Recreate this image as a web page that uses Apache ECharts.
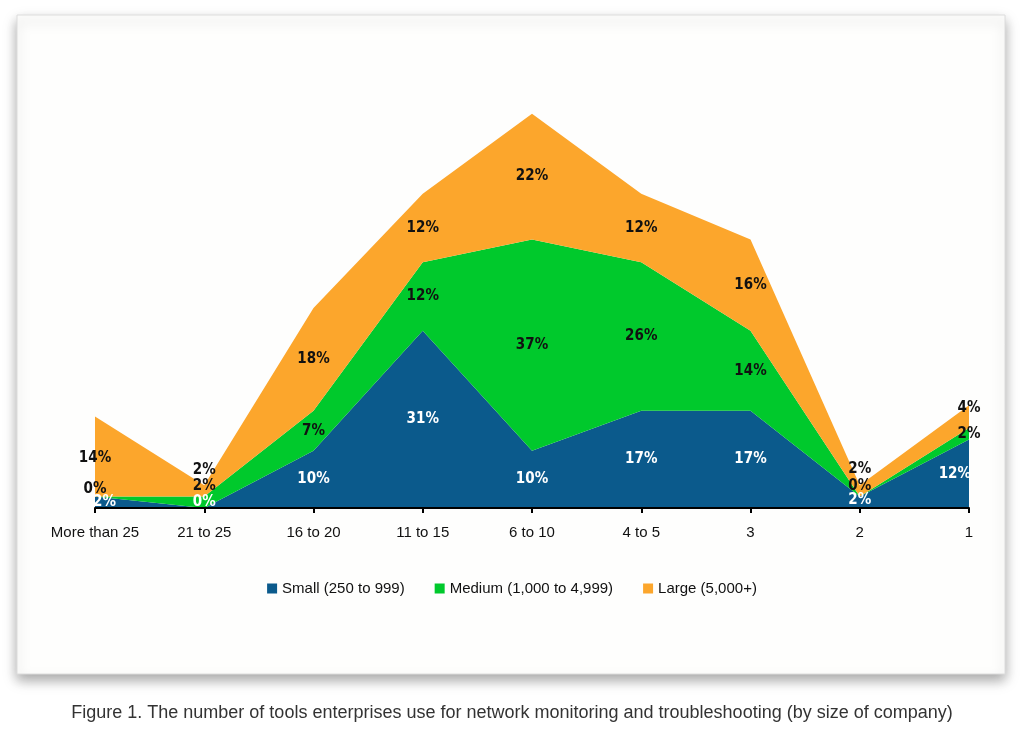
<!DOCTYPE html>
<html><head><meta charset="utf-8">
<script src="https://cdn.jsdelivr.net/npm/echarts@6/dist/echarts.min.js"></script>
<style>html,body{margin:0;padding:0;background:#fff}#c{width:1024px;height:738px}</style>
</head><body><div id="c"></div>
<script>
const categories = ['More than 25','21 to 25','16 to 20','11 to 15','6 to 10','4 to 5','3','2','1'];
const small  = [2, 0, 10, 31, 10, 17, 17, 2, 12];
const medium = [0, 2, 7, 12, 37, 26, 14, 0, 2];
const large  = [14, 2, 18, 12, 22, 12, 16, 2, 4];
const seriesNames = ['Small (250 to 999)','Medium (1,000 to 4,999)','Large (5,000+)'];
const caption = 'Figure 1. The number of tools enterprises use for network monitoring and troubleshooting (by size of company)';

const colors = ['#0b5a8c','#00c92c','#fca62c'];
const labelColors = ['#ffffff','#111111','#111111'];
const layers = [small, medium, large];
const labelFont = '"DejaVu Sans Condensed", "Liberation Sans", Arial, sans-serif';
const textFont = 'Arial, "Liberation Sans", sans-serif';
// vertical nudges (px) for crowded labels: [small, medium, large] per category index
const labelNudge = {0: [0, -7, 2], 1: [-6, -16, -21], 7: [-2, -10, -22], 8: [0, 0, -8]};

const series = [];
layers.forEach((arr, i) => {
  series.push({
    name: seriesNames[i], type: 'line', stack: 'total', data: arr,
    symbol: 'none', lineStyle: {width: 0}, color: colors[i],
    areaStyle: {color: colors[i], opacity: 1}, z: 2
  });
});
// label carriers at the middle of each band
layers.forEach((arr, i) => {
  const last = arr.length - 1;
  const mids = arr.map((v, k) => {
    let base = 0;
    for (let j = 0; j < i; j++) base += layers[j][k];
    const item = {value: [k, base + v / 2]};
    const dy = labelNudge[k] ? labelNudge[k][i] : 0;
    const lab = {offset: [0, dy]};
    if (i === 0 && k === 0) { lab.align = 'left'; lab.offset = [-2, dy]; }
    if (i === 0 && k === last) { lab.align = 'right'; lab.offset = [2, dy]; }
    item.label = lab;
    return item;
  });
  series.push({
    name: 'lbl' + i, type: 'scatter', data: mids, symbol: 'circle', symbolSize: 0,
    clip: false, color: colors[i], silent: true, z: 5,
    itemStyle: {opacity: 1},
    label: {show: true, position: 'inside',
      formatter: p => arr[p.dataIndex] + '%',
      color: labelColors[i], fontWeight: 'bold', fontSize: 15, fontFamily: labelFont}
  });
});

const chart = echarts.init(document.getElementById('c'));
chart.setOption({
  animation: false,
  graphic: [
    {type: 'rect', shape: {x: 17, y: 15, width: 988, height: 659}, z: -10,
     style: {fill: '#fefefd', stroke: '#dcdcdc', lineWidth: 1,
             shadowBlur: 12, shadowColor: 'rgba(0,0,0,0.35)', shadowOffsetY: 6}},
    {type: 'text', left: 'center', top: 704, z: 10,
     style: {text: caption, fill: '#333', fontSize: 18, fontFamily: textFont}}
  ],
  grid: {left: 95, right: 55, top: 108, bottom: 230},
  legend: {
    data: seriesNames, top: 576, left: 'center', itemWidth: 10, itemHeight: 10,
    icon: 'rect', itemGap: 30,
    textStyle: {color: '#111', fontSize: 15, fontFamily: textFont}
  },
  xAxis: {
    type: 'category', data: categories, boundaryGap: false,
    axisLine: {lineStyle: {color: '#000', width: 2}},
    axisTick: {show: true, length: 5, interval: 0, lineStyle: {color: '#000', width: 2}},
    axisLabel: {color: '#111', fontSize: 15, margin: 17, interval: 0, fontFamily: textFont},
    z: 10
  },
  yAxis: {type: 'value', min: 0, max: 70, show: false, splitLine: {show: false}},
  series: series
});
</script></body></html>
